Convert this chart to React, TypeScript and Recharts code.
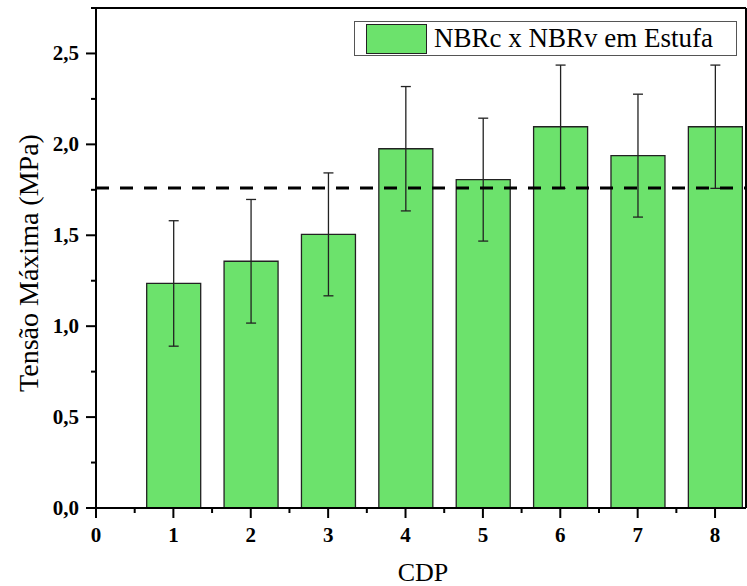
import {
  Bar,
  BarChart,
  ErrorBar,
  ReferenceLine,
  XAxis,
  YAxis,
} from "recharts";

// CDP 1..8, tensão máxima (MPa) com desvio
const cdps = [1, 2, 3, 4, 5, 6, 7, 8];
const tensao = [1.235, 1.357, 1.505, 1.976, 1.806, 2.097, 1.938, 2.097];
const desvio = [0.345, 0.34, 0.338, 0.342, 0.338, 0.339, 0.338, 0.339];
const referencia = 1.76;
const serieNome = "NBRc x NBRv em Estufa";

const xTicks = [0, 0.5, 1, 1.5, 2, 2.5, 3, 3.5, 4, 4.5, 5, 5.5, 6, 6.5, 7, 7.5, 8];
const yTicks = [0, 0.25, 0.5, 0.75, 1, 1.25, 1.5, 1.75, 2, 2.25, 2.5, 2.75];

const data = cdps.map((c, i) => ({ cdp: c, value: tensao[i], err: desvio[i] }));

const FONT = '"Liberation Serif", "Times New Roman", serif';
const GREEN = "#6CE26C";

const XTick = ({ x, y, payload }: any) => {
  const v = payload.value;
  const major = Number.isInteger(v);
  return (
    <g>
      <line x1={x} x2={x} y1={y} y2={y + (major ? 10 : 5)} stroke="#000" strokeWidth={2} />
      {major && (
        <text
          x={x}
          y={y + 34}
          textAnchor="middle"
          style={{ fontFamily: FONT, fontWeight: 700, fontSize: 21 }}
          fill="#000"
        >
          {v}
        </text>
      )}
    </g>
  );
};

const YTick = ({ x, y, payload }: any) => {
  const v = payload.value;
  const major = Math.abs(v * 2 - Math.round(v * 2)) < 1e-6;
  return (
    <g>
      <line x1={x - (major ? 10 : 5)} x2={x} y1={y} y2={y} stroke="#000" strokeWidth={2} />
      {major && (
        <text
          x={x - 17}
          y={y + 7}
          textAnchor="end"
          style={{ fontFamily: FONT, fontWeight: 700, fontSize: 21 }}
          fill="#000"
        >
          {v.toFixed(1).replace(".", ",")}
        </text>
      )}
    </g>
  );
};

export default function App() {
  return (
    <div style={{ position: "absolute", left: 0, top: 0, width: 747, height: 586, background: "#fff" }}>
      <BarChart
        width={747}
        height={586}
        data={data}
        margin={{ top: 8, right: 1, left: 16, bottom: 18 }}
      >
        <XAxis
          dataKey="cdp"
          type="number"
          domain={[0, 8.4]}
          ticks={xTicks}
          interval={0}
          allowDataOverflow
          axisLine={{ stroke: "#000", strokeWidth: 2 }}
          tickLine={false}
          tickSize={0}
          tickMargin={0}
          height={60}
          tick={<XTick />}
          label={{
            content: () => (
              <text x={423} y={581} textAnchor="middle" style={{ fontFamily: FONT, fontSize: 26 }} fill="#000">
                CDP
              </text>
            ),
          }}
        />
        <YAxis
          type="number"
          domain={[0, 2.75]}
          ticks={yTicks}
          interval={0}
          allowDataOverflow
          axisLine={{ stroke: "#000", strokeWidth: 2 }}
          tickLine={false}
          tickSize={0}
          tickMargin={0}
          width={80}
          tick={<YTick />}
          label={{
            content: () => (
              <text
                x={28}
                y={263}
                transform="rotate(-90, 28, 263)"
                textAnchor="middle"
                dominantBaseline="central"
                style={{ fontFamily: FONT, fontSize: 28 }}
                fill="#000"
              >
                Tensão Máxima (MPa)
              </text>
            ),
          }}
        />
        <Bar
          dataKey="value"
          name={serieNome}
          fill={GREEN}
          stroke="#222"
          strokeWidth={1.3}
          barSize={54}
          isAnimationActive={false}
        >
          <ErrorBar dataKey="err" direction="y" width={5} stroke="#222" strokeWidth={1.3} />
        </Bar>
        <ReferenceLine y={referencia} stroke="#000" strokeWidth={3} strokeDasharray="13 11" />
        <ReferenceLine y={2.75} stroke="#000" strokeWidth={2} />
        <ReferenceLine x={8.4} stroke="#000" strokeWidth={2} />
      </BarChart>
      {/* legend box, top right */}
      <div
        style={{
          position: "absolute",
          left: 354,
          top: 21,
          width: 381,
          height: 33,
          border: "1px solid #555",
          background: "#fff",
          display: "flex",
          alignItems: "center",
          fontFamily: FONT,
        }}
      >
        <div
          style={{
            width: 59,
            height: 28,
            marginLeft: 11,
            background: GREEN,
            border: "1.5px solid #222",
          }}
        />
        <span style={{ marginLeft: 7, fontSize: 27, color: "#000", lineHeight: "33px" }}>
          {serieNome}
        </span>
      </div>
    </div>
  );
}
